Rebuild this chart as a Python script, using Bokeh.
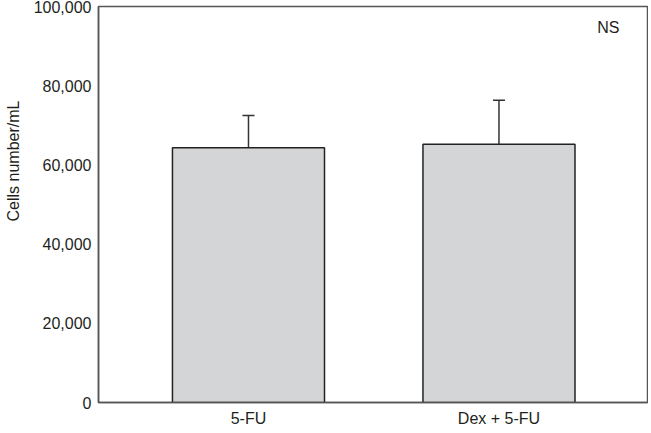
from bokeh.plotting import figure
from bokeh.models import (ColumnDataSource, Range1d, FixedTicker, Title,
                          NumeralTickFormatter, Whisker, TeeHead, Label)
from bokeh.embed import file_html
from bokeh.resources import INLINE

categories = ["5-FU", "Dex + 5-FU"]
means = [64300, 65200]
upper_sd = [72500, 76300]
y_ticks = [0, 20000, 40000, 60000, 80000, 100000]
y_title = "Cells number/mL"

xpos = [i + 1 for i in range(len(categories))]
src = ColumnDataSource(dict(x=xpos, top=means, upper=upper_sd))

FONT = "Liberation Sans"
TXT = "#231f20"

p = figure(frame_width=549, frame_height=396, output_backend="svg", toolbar_location=None,
           x_range=Range1d(0.4012, 2.593), y_range=Range1d(0, 100000),
           min_border_left=91, min_border_top=6, min_border_right=1, min_border_bottom=20)
p.xgrid.visible = False
p.ygrid.visible = False
p.outline_line_color = "#555555"
p.outline_line_width = 1.5

p.vbar(x="x", top="top", width=0.607, source=src, fill_color="#d4d5d7",
       line_color="#222222", line_width=1.5)
p.add_layout(Whisker(base="x", lower="top", upper="upper", source=src,
                     line_color="#333333", line_width=1.5, lower_head=None,
                     upper_head=TeeHead(size=12, line_color="#333333", line_width=1.5)))

p.xaxis.ticker = FixedTicker(ticks=xpos)
p.xaxis.major_label_overrides = {x: c for x, c in zip(xpos, categories)}
p.yaxis.ticker = FixedTicker(ticks=y_ticks)
p.yaxis.formatter = NumeralTickFormatter(format="0,0")
p.xaxis.axis_label = None

for ax in (p.xaxis[0], p.yaxis[0]):
    ax.axis_line_color = "#555555"
    ax.axis_line_width = 1.5
    ax.major_tick_line_color = None
    ax.minor_tick_line_color = None
    ax.major_tick_out = 0
    ax.major_tick_in = 0
    ax.major_label_text_font = FONT
    ax.major_label_text_font_size = "16px"
    ax.major_label_text_color = TXT
    ax.axis_label_standoff = 0

p.yaxis.major_label_standoff = 7
p.xaxis.major_label_standoff = 7
# invisible spacer between tick labels and the title
p.yaxis.axis_label = " "
p.yaxis.axis_label_text_font_size = "1px"
p.yaxis.axis_label_standoff = 3

p.add_layout(Title(text=y_title, align="left", offset=181, standoff=4,
                   vertical_align="bottom",
                   text_font=FONT, text_font_size="16px", text_font_style="normal",
                   text_color=TXT), "left")

p.add_layout(Label(x=2.437, y=94600, text="NS", text_font=FONT, text_font_size="16px",
                   text_color=TXT, text_align="center", text_baseline="middle"))

open("out.html", "w").write(file_html(p, INLINE))
